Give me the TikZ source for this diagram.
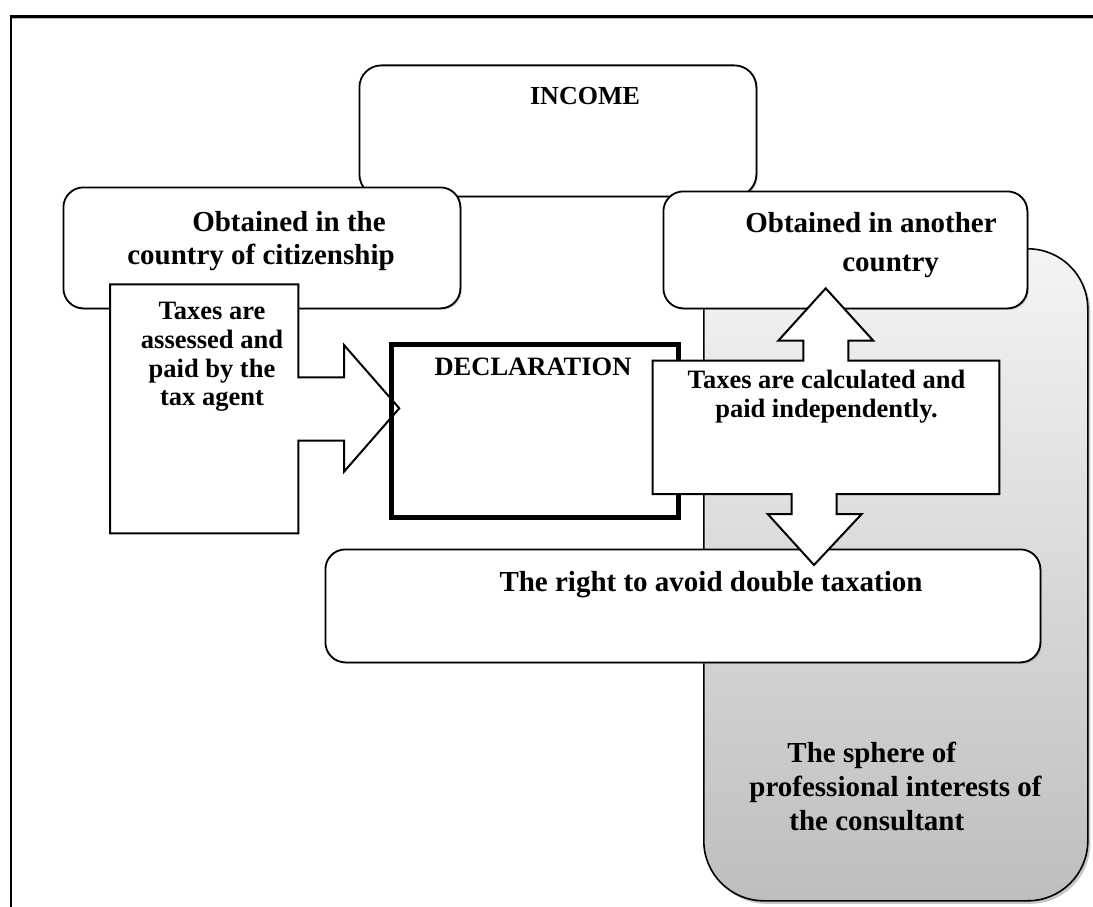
\documentclass[tikz,border=0pt]{standalone}
\usepackage{fontspec}
\setmainfont{Liberation Serif}
\usetikzlibrary{shadows}
\definecolor{gtop}{RGB}{244,244,244}
\definecolor{gbot}{RGB}{190,190,190}
\newcommand\fsz[2]{\fontsize{#1}{#2}\selectfont\bfseries}
\begin{document}
\begin{tikzpicture}[x=1pt,y=-1pt,
  rbox/.style={draw, line width=1.8pt, fill=white, rounded corners=20pt, inner sep=0pt, anchor=north west,
    drop shadow={shadow xshift=1.5pt, shadow yshift=-1.5pt, opacity=0.35}},
  graybox/.style={draw, line width=1.6pt, rounded corners=60pt, top color=gtop, bottom color=gbot,
    anchor=north west, inner sep=0pt,
    drop shadow={shadow xshift=2.5pt, shadow yshift=-3pt, opacity=0.45}},
  declbox/.style={draw, line width=4.5pt, inner sep=0pt, anchor=north west},
  arrowshape/.style={draw, line width=2pt, fill=white, line join=miter},
  txt/.style={inner sep=0pt, align=center}]
\useasboundingbox (0,0) rectangle (1093,907);
% frame
\coordinate (fTL) at (11,16.5);
\coordinate (fTR) at (1093,16.5);
\coordinate (fBL) at (11,907);
\draw[gray!60, line width=1pt] ([yshift=-2pt]fTL) -- ([yshift=-2pt]fTR);
\draw[line width=2.5pt] (fTR) -- (fTL) -- (fBL);
% sphere of the consultant
\node[graybox, minimum width=384pt, minimum height=652pt] (sphere) at (703,248) {};
% boxes
\node[rbox, rounded corners=22pt, minimum width=397pt, minimum height=131pt] (income) at (358.5,64.5) {};
\node[rbox, minimum width=397pt, minimum height=121pt] (obtL) at (62.5,186.5) {};
\node[rbox, minimum width=364pt, minimum height=117pt] (obtR) at (662.5,190.5) {};
\node[rbox, minimum width=715pt, minimum height=113pt] (right) at (324.5,548.5) {};
% assessed arrow box
\draw[arrowshape] (110,284.3) coordinate (aTL) -- (298.3,284.3) -- (298.3,377.3) -- (344,377.3) -- (344,345)
  -- (399.3,408.3) coordinate (aTip) -- (344,471.7) -- (344,440.7) -- (298.3,440.7) -- (298.3,533.3) -- (110,533.3) -- cycle;
% declaration
\node[declbox, minimum width=287pt, minimum height=173pt] (decl) at (389,342) {};
% calculated up/down arrow box
\draw[arrowshape] (652.7,360.7) -- (803.3,360.7) -- (803.3,340.7) -- (778.3,340.7) -- (825.7,288.3) coordinate (upTip)
  -- (873.3,340.7) -- (848.3,340.7) -- (848.3,360.7) -- (999.3,360.7) -- (999.3,494) -- (836.7,494) -- (836.7,514)
  -- (861.7,514) -- (814,565) coordinate (downTip) -- (767.7,514) -- (791.7,514) -- (791.7,494) -- (652.7,494) -- cycle;
% texts
\node[txt, font=\fsz{26}{28}] (tIncome) at (585,96) {INCOME};
\node[txt, align=left, font=\fsz{29}{33}] (tObtL) at (261,241.5) {\hspace*{65pt}Obtained in the\\country of citizenship};
\node[txt, align=left, font=\fsz{29}{39}] (tObtR) at (871,245.5) {Obtained in another\\\hspace*{97pt}country};
\node[txt, font=\fsz{26.5}{28.7}] (tAssess) at (212,357) {Taxes are\\assessed and\\paid by the\\tax agent};
\node[txt, font=\fsz{26.5}{28}] (tDecl) at (533,367) {DECLARATION};
\node[txt, font=\fsz{26.5}{28.4}] (tCalc) at (826.5,396.5) {Taxes are calculated and\\paid independently.};
\node[txt, font=\fsz{29}{33}] (tRight) at (711,585) {The right to avoid double taxation};
\node[txt, align=left, font=\fsz{29}{34}] (tSphere) at (895.5,786) {\hspace*{38pt}The sphere of\\professional interests of\\\hspace*{40pt}the consultant};
\end{tikzpicture}
\end{document}
